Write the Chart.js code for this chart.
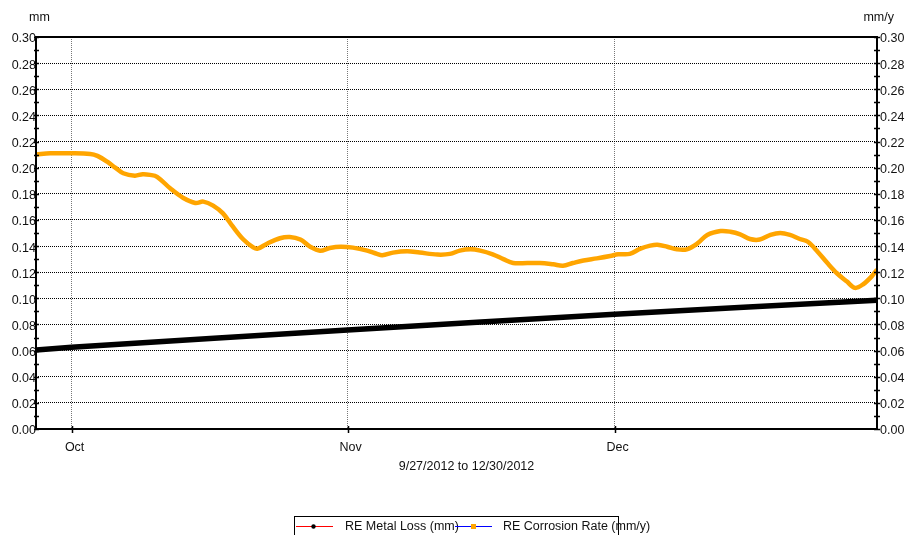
<!DOCTYPE html>
<html>
<head>
<meta charset="utf-8">
<script src="https://cdn.jsdelivr.net/npm/chart.js@4.4.0/dist/chart.umd.min.js"></script>
<style>
  html, body { margin: 0; padding: 0; background: #fff; overflow: hidden; }
  #wrap { width: 907px; height: 535px; position: relative; }
</style>
</head>
<body>
<div id="wrap"><canvas id="c" width="907" height="535"></canvas></div>
<script>
// Days are counted from 9/27/2012 00:00.
const rateDays = [0, 1.6, 3.8, 6.1, 6.9, 8.0, 8.9, 9.8, 11.1, 12.0, 12.8, 13.6, 15.1, 16.5, 17.9, 18.8, 19.9,
  21.0, 22.1, 23.3, 24.4, 24.9, 26.0, 27.4, 28.5, 29.7, 30.8, 31.9, 33.0, 34.2, 35.6, 37.2, 38.3, 38.9,
  40.1, 41.7, 43.1, 45.1, 46.5, 47.6, 48.8, 49.9, 51.3, 52.5, 53.6, 55.2, 56.6, 58.1, 59.2, 60.3, 61.5,
  63.0, 64.5, 65.4, 66.7, 67.9, 69.0, 69.8, 70.9, 72.0, 73.1, 74.3, 75.4, 76.9, 78.0, 79.1, 80.2, 81.3,
  82.5, 83.6, 84.7, 85.8, 86.7, 87.8, 88.9, 90.0, 91.1, 92.0, 92.9, 93.9, 94.47];
const rateValues = [0.210, 0.211, 0.211, 0.2105, 0.209, 0.2046, 0.200, 0.1957, 0.1939, 0.195, 0.1945, 0.193,
  0.184, 0.177, 0.173, 0.174, 0.171, 0.165, 0.155, 0.145, 0.139, 0.138, 0.142, 0.146, 0.147, 0.145, 0.1395,
  0.1365, 0.1385, 0.1395, 0.1388, 0.1365, 0.134, 0.133, 0.135, 0.136, 0.135, 0.1335, 0.134, 0.1365, 0.1375,
  0.1365, 0.1337, 0.130, 0.127, 0.127, 0.127, 0.126, 0.125, 0.127, 0.129, 0.1306, 0.1324, 0.1337, 0.134,
  0.138, 0.1403, 0.141, 0.1395, 0.1375, 0.1375, 0.142, 0.1485, 0.1515, 0.151, 0.149, 0.1454, 0.145, 0.1485,
  0.150, 0.1485, 0.1454, 0.1433, 0.1357, 0.127, 0.119, 0.1128, 0.108, 0.1107, 0.117, 0.122];

const lossDays = [0, 4, 20, 35, 50, 65, 80, 94.47];
const lossValues = [0.0605, 0.0625, 0.0694, 0.0758, 0.0819, 0.0878, 0.0934, 0.0985];

const monthDays = [4, 35, 65];
const monthLabels = ['Oct', 'Nov', 'Dec'];
const dayMin = 0;
const dayMax = 94.47;
const axisMin = 0;
const axisMax = 0.30;
const leftUnit = 'mm';
const rightUnit = 'mm/y';
const periodLabel = '9/27/2012 to 12/30/2012';
const seriesNames = ['RE Metal Loss (mm)', 'RE Corrosion Rate (mm/y)'];

const FONT = 'Arial, "Liberation Sans", sans-serif';
const FONT_SIZE = 12.5;

const toPoints = (xs, ys) => xs.map((x, i) => ({ x: x, y: ys[i] }));

// Frame, crossing tick marks, unit labels, period label and legend.
const decorations = {
  id: 'decorations',
  afterDraw(chart) {
    const { ctx, chartArea: a, scales } = chart;
    ctx.save();

    ctx.strokeStyle = '#000';
    ctx.lineWidth = 1.5;
    for (let i = 0; i <= 30; i++) {
      const y = Math.round(scales.y.getPixelForValue(i / 100)) + 0.5;
      ctx.beginPath();
      ctx.moveTo(a.left - 2, y); ctx.lineTo(a.left + 3, y);
      ctx.moveTo(a.right - 3, y); ctx.lineTo(a.right + 3, y);
      ctx.stroke();
    }
    monthDays.forEach(d => {
      const x = Math.round(scales.x.getPixelForValue(d)) + 0.5;
      ctx.beginPath();
      ctx.moveTo(x, a.bottom - 3); ctx.lineTo(x, a.bottom + 4);
      ctx.stroke();
    });

    ctx.lineWidth = 2;
    ctx.strokeRect(a.left, a.top, a.right - a.left, a.bottom - a.top);

    ctx.fillStyle = '#111';
    ctx.font = FONT_SIZE + 'px ' + FONT;
    ctx.textBaseline = 'middle';
    ctx.textAlign = 'left';
    ctx.fillText(leftUnit, 29, 18);
    ctx.textAlign = 'right';
    ctx.fillText(rightUnit, 894, 18);
    ctx.textAlign = 'center';
    ctx.fillText(periodLabel, (a.left + a.right) / 2 + 10, 467);

    // legend
    ctx.lineWidth = 1;
    ctx.strokeStyle = '#000';
    ctx.strokeRect(294.5, 516.5, 324, 40);
    const ly = 526.5;
    ctx.strokeStyle = '#ff0000';
    ctx.beginPath(); ctx.moveTo(296, ly); ctx.lineTo(333, ly); ctx.stroke();
    ctx.fillStyle = '#000';
    ctx.beginPath(); ctx.arc(313.5, ly, 2.2, 0, Math.PI * 2); ctx.fill();
    ctx.fillStyle = '#111';
    ctx.textAlign = 'left';
    ctx.fillText(seriesNames[0], 345, ly);
    ctx.strokeStyle = '#0000ff';
    ctx.beginPath(); ctx.moveTo(455, ly); ctx.lineTo(492, ly); ctx.stroke();
    ctx.fillStyle = '#ffa500';
    ctx.fillRect(471, ly - 2.5, 5, 5);
    ctx.fillStyle = '#111';
    ctx.fillText(seriesNames[1], 503, ly);
    ctx.restore();
  }
};

new Chart(document.getElementById('c'), {
  type: 'line',
  data: {
    datasets: [
      {
        label: seriesNames[1],
        data: toPoints(rateDays, rateValues),
        yAxisID: 'y2',
        borderColor: '#ffa500',
        backgroundColor: '#ffa500',
        borderWidth: 4.5,
        pointRadius: 0,
        tension: 0.35,
        fill: false
      },
      {
        label: seriesNames[0],
        data: toPoints(lossDays, lossValues),
        yAxisID: 'y',
        borderColor: '#000',
        backgroundColor: '#000',
        borderWidth: 5.5,
        pointRadius: 0,
        tension: 0,
        fill: false
      }
    ]
  },
  options: {
    responsive: false,
    animation: false,
    devicePixelRatio: 1,
    layout: { padding: { top: 37, left: 0, right: 0, bottom: 0 } },
    plugins: { legend: { display: false }, tooltip: { enabled: false } },
    scales: {
      x: {
        type: 'linear',
        min: dayMin,
        max: dayMax,
        afterBuildTicks: s => { s.ticks = monthDays.map(v => ({ value: v })); },
        afterFit: s => { s.height = 106; },
        ticks: {
          autoSkip: false,
          maxRotation: 0,
          padding: 11,
          labelOffset: 3,
          color: '#111',
          font: { family: FONT, size: FONT_SIZE },
          callback: (v, i) => monthLabels[i]
        },
        grid: { display: true, drawTicks: false, color: '#777', lineWidth: 1 },
        border: { display: false, dash: [1, 1] }
      },
      y: {
        position: 'left',
        min: axisMin,
        max: axisMax,
        afterFit: s => { s.width = 36; },
        ticks: {
          stepSize: 0.02,
          padding: 0,
          labelOffset: 2,
          color: '#111',
          font: { family: FONT, size: FONT_SIZE },
          callback: v => Number(v).toFixed(2)
        },
        grid: { display: true, drawTicks: false, color: '#000', lineWidth: 1 },
        border: { display: false, dash: [1, 1] }
      },
      y2: {
        position: 'right',
        min: axisMin,
        max: axisMax,
        afterFit: s => { s.width = 30; },
        ticks: {
          stepSize: 0.02,
          padding: 3,
          labelOffset: 2,
          color: '#111',
          font: { family: FONT, size: FONT_SIZE },
          callback: v => Number(v).toFixed(2)
        },
        grid: { display: false, drawTicks: false },
        border: { display: false }
      }
    }
  },
  plugins: [decorations]
});
</script>
</body>
</html>
